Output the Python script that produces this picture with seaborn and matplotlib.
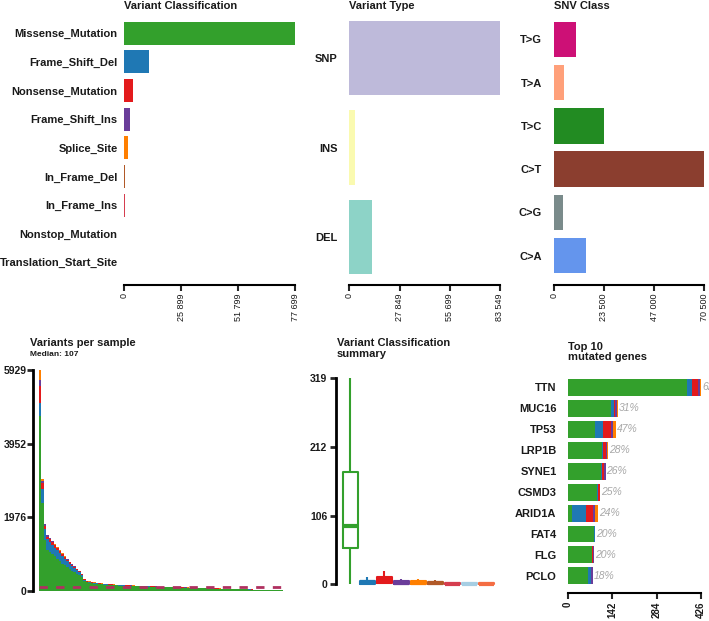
import numpy as np
import pandas as pd
import matplotlib
matplotlib.use("Agg")
import matplotlib.pyplot as plt
import seaborn as sns

# ---------------- data ----------------
vc_classes = ["Missense_Mutation", "Frame_Shift_Del", "Nonsense_Mutation", "Frame_Shift_Ins",
              "Splice_Site", "In_Frame_Del", "In_Frame_Ins", "Nonstop_Mutation",
              "Translation_Start_Site"]
vc_counts = [77699, 11480, 4220, 2860, 1680, 600, 250, 100, 150]
vc_colors = ["#33A02C", "#1F78B4", "#E31A1C", "#6A3D9A", "#FF7F00", "#B15928",
             "#D53E4F", "#A6CEE3", "#F46D43"]

vt_types = ["SNP", "INS", "DEL"]
vt_counts = [83549, 3160, 12420]
vt_colors = ["#BEBADA", "#FAFAB0", "#8DD3C7"]

snv_classes = ["T>G", "T>A", "T>C", "C>T", "C>G", "C>A"]
snv_counts = [10300, 4960, 23690, 70500, 4350, 15260]
snv_colors = ["#CD1076", "#FFA07A", "#228B22", "#8B3E2F", "#7A8B8B", "#6495ED"]

# variants per sample (sorted), totals and the minor classes stacked on top of missense
sample_total = [5929, 3000, 1800, 1500, 1420, 1340, 1250, 1170, 1090, 1000,
                920, 850, 780, 720, 660, 590, 540, 450, 320, 265,
                250, 230, 222, 215, 200, 195, 188, 182, 178, 175,
                168, 163, 160, 156, 152, 148, 145, 142, 140, 138,
                135, 133, 130, 127, 124, 121, 118, 115, 112, 109,
                106, 104, 102, 100, 98, 96, 94, 92, 90, 88,
                86, 84, 82, 80, 78, 76, 74, 72, 70, 68,
                66, 64, 62, 60, 58, 56, 54, 52, 50, 48,
                46, 44, 42, 40, 38, 36, 34, 32, 30, 28,
                26, 24, 22, 20, 18, 16, 14, 11, 8, 5]
sample_fsd = [350, 380, 300, 280, 270, 250, 230, 225, 210, 195,
              170, 155, 140, 125, 110, 95, 80, 55, 25, 20,
              18, 16, 15, 14, 13, 12, 12, 11, 11, 11,
              10, 10, 9, 9, 9, 9, 8, 8, 8, 8,
              7, 7, 7, 7, 6, 6, 6, 6, 6, 6,
              5, 5, 5, 5, 5, 5, 5, 5, 4, 4,
              4, 4, 4, 4, 4, 4, 4, 3, 3, 3,
              3, 3, 3, 3, 3, 3, 3, 3, 2, 2,
              2, 2, 2, 2, 2, 2, 2, 2, 1, 1,
              1, 1, 1, 1, 1, 1, 1, 0, 0, 0]
sample_nonsense = [450, 160, 90, 75, 70, 65, 60, 55, 52, 50,
                   45, 42, 40, 37, 34, 31, 28, 24, 16, 12,
                   12, 11, 11, 10, 10, 10, 9, 9, 8, 8,
                   8, 8, 8, 8, 7, 7, 7, 7, 6, 6,
                   6, 6, 6, 6, 6, 5, 5, 5, 5, 5,
                   5, 5, 5, 5, 4, 4, 4, 4, 4, 4,
                   4, 4, 4, 4, 3, 3, 3, 3, 3, 3,
                   3, 3, 3, 3, 3, 2, 2, 2, 2, 2,
                   2, 2, 2, 2, 2, 1, 1, 1, 1, 1,
                   1, 1, 1, 1, 1, 1, 0, 0, 0, 0]
sample_fsins = [150, 70, 40, 30, 25, 22, 18, 18, 16, 15,
                15, 13, 12, 11, 10, 9, 8, 7, 5, 4,
                4, 3, 3, 3, 3, 3, 3, 3, 3, 3,
                3, 2, 2, 2, 2, 2, 2, 2, 2, 2,
                2, 2, 2, 2, 2, 2, 2, 2, 2, 2,
                2, 2, 2, 2, 2, 2, 2, 2, 2, 2,
                1, 1, 1, 1, 1, 1, 1, 1, 1, 1,
                1, 1, 1, 1, 1, 1, 1, 1, 1, 1,
                1, 1, 1, 1, 1, 1, 1, 1, 1, 1,
                0, 0, 0, 0, 0, 0, 0, 0, 0, 0]
sample_splice = [280, 40, 20, 15, 15, 13, 12, 12, 12, 10,
                 10, 10, 8, 7, 6, 5, 4, 4, 4, 4,
                 3, 3, 3, 3, 2, 2, 2, 2, 2, 2,
                 2, 2, 2, 2, 2, 2, 2, 2, 2, 2,
                 2, 2, 2, 2, 2, 2, 2, 2, 2, 2,
                 1, 1, 1, 1, 1, 1, 1, 1, 1, 1,
                 1, 1, 1, 1, 1, 1, 1, 1, 1, 1,
                 1, 1, 1, 1, 1, 1, 1, 1, 1, 1,
                 0, 0, 0, 0, 0, 0, 0, 0, 0, 0,
                 0, 0, 0, 0, 0, 0, 0, 0, 0, 0]
median_variants = 107

# five-number summaries per class (min, q1, median, q3, max)
box_stats = {
    "Missense_Mutation": [0, 55.7, 90.3, 174.5, 319],
    "Frame_Shift_Del": [0, 1, 3, 5, 12],
    "Nonsense_Mutation": [0, 1.5, 6, 11.8, 21],
    "Frame_Shift_Ins": [0, 0.5, 2, 5, 8],
    "Splice_Site": [0, 1, 2, 5, 8],
    "In_Frame_Del": [0, 0.5, 1.5, 3.5, 6],
    "In_Frame_Ins": [0, 0, 1, 2.5, 2.5],
    "Nonstop_Mutation": [0, 0, 1, 2, 2],
    "Translation_Start_Site": [0, 0, 1, 2.5, 2.5],
}

genes = ["TTN", "MUC16", "TP53", "LRP1B", "SYNE1", "CSMD3", "ARID1A", "FAT4", "FLG", "PCLO"]
gene_missense = [380, 138, 88, 109, 106, 95, 13, 84, 79, 65]
gene_fsd = [17, 9, 26, 3, 3, 1, 45, 2, 0, 8]
gene_nonsense = [18, 4, 23, 10, 7, 7, 22, 0, 2, 3]
gene_fsins = [8, 5, 7, 4, 5, 0, 8, 2, 2, 5]
gene_splice = [3, 4, 11, 2, 0, 0, 8, 0, 0, 0]
gene_pct = ["62%", "31%", "47%", "28%", "26%", "25%", "24%", "20%", "20%", "18%"]

# ---------------- figure ----------------
sns.set_style("white")
plt.rcParams["font.family"] = ["Liberation Sans", "DejaVu Sans"]
W, H = 709, 621
fig = plt.figure(figsize=(W / 100, H / 100), dpi=100)
narrow = ["Liberation Sans Narrow", "Liberation Sans", "DejaVu Sans"]
txt = "#1a1a1a"


def rect(x0, y0, x1, y1):
    return [x0 / W, 1 - y1 / H, (x1 - x0) / W, (y1 - y0) / H]


def fmt(v):
    return f"{int(v):,}".replace(",", " ")


def title(x, y, s, size=8, ls=1.0):
    fig.text(x / W, 1 - y / H, s, fontsize=size, fontweight="bold", color=txt,
             ha="left", va="center", linespacing=ls)


def top_panel(r, labels, values, colors, name, ylim, width, pad):
    ax = fig.add_axes(r)
    sns.barplot(x=values, y=labels, hue=labels, order=labels, hue_order=labels,
                palette=dict(zip(labels, colors)), legend=False, orient="h",
                width=width, linewidth=0, saturation=1, errorbar=None, ax=ax)
    vmax = max(values)
    ticks = np.floor(np.linspace(0, vmax, 4))
    ax.set_xlim(0, vmax)
    ax.set_ylim(*ylim)
    ax.set_xticks(ticks)
    ax.set_xticklabels([fmt(t) for t in ticks], rotation=90, fontsize=6.5,
                       family=narrow, color=txt)
    for s in ["top", "right", "left"]:
        ax.spines[s].set_visible(False)
    ax.spines["bottom"].set_bounds(0, vmax)
    ax.spines["bottom"].set_linewidth(1.5)
    ax.spines["bottom"].set_color("black")
    ax.tick_params(axis="x", length=4, width=1.5, pad=2, bottom=True)
    ax.tick_params(axis="y", length=0, pad=pad, labelsize=8)
    for t in ax.get_yticklabels():
        t.set_fontweight("bold")
        t.set_color(txt)
    ax.set_xlabel("")
    ax.set_ylabel("")
    title(r[0] * W, 6, name)
    return ax


top_panel(rect(124, 19, 295.3, 285), vc_classes, vc_counts, vc_colors,
          "Variant Classification", (8.79, -0.5), 0.8, 4.5)
top_panel(rect(349.3, 19, 500, 285), vt_types, vt_counts, vt_colors,
          "Variant Type", (2.54, -0.44), 0.83, 8.3)
top_panel(rect(553.7, 19, 704.3, 285), snv_classes, snv_counts, snv_colors,
          "SNV Class", (5.68, -0.47), 0.82, 8.3)

# ---- variants per sample ----
ax4 = fig.add_axes(rect(33.3, 370, 287, 590.7))
minor = np.array([sample_fsd, sample_nonsense, sample_fsins, sample_splice])
missense = np.array(sample_total) - minor.sum(axis=0)
layers = np.vstack([missense, minor])
cum = np.cumsum(layers, axis=0)
stack_colors = ["#33A02C", "#1F78B4", "#E31A1C", "#6A3D9A", "#FF7F00"]
samples = np.arange(len(sample_total))
for k in reversed(range(len(layers))):
    sns.barplot(x=samples, y=cum[k], color=stack_colors[k], native_scale=True,
                width=1, linewidth=0, saturation=1, errorbar=None, ax=ax4)
ax4.hlines(median_variants, -0.5, len(samples) - 0.5, colors="#B03060",
           linestyles=(0, (3, 3)), linewidth=2)
vmax = max(sample_total)
ax4.set_xlim(-2.82, 100.3)
ax4.set_ylim(0, vmax)
yt = np.floor(np.linspace(0, vmax, 4))
ax4.set_yticks(yt)
ax4.set_yticklabels([str(int(t)) for t in yt], fontsize=7.5, fontweight="bold", color=txt)
ax4.set_xticks([])
for s in ["top", "right", "bottom"]:
    ax4.spines[s].set_visible(False)
ax4.spines["left"].set_bounds(0, vmax)
ax4.spines["left"].set_linewidth(2)
ax4.spines["left"].set_color("black")
ax4.tick_params(axis="y", length=4, width=2, pad=1, left=True)
ax4.set_xlabel("")
ax4.set_ylabel("")
title(30, 342.7, "Variants per sample")
fig.text(30 / W, 1 - 355 / H, f"Median: {median_variants}", fontsize=6,
         fontweight="bold", color=txt, ha="left", va="center")

# ---- variant classification summary ----
ax5 = fig.add_axes(rect(335.7, 378.3, 495, 584.3))
box_df = pd.DataFrame([(c, v) for c, vals in box_stats.items() for v in vals],
                      columns=["cls", "val"])
sns.boxplot(data=box_df, x="cls", y="val", hue="cls", order=vc_classes,
            hue_order=vc_classes, palette=dict(zip(vc_classes, vc_colors)),
            legend=False, fill=False, whis=(0, 100), width=0.85, showcaps=False,
            showfliers=False, linewidth=1.5, medianprops=dict(linewidth=3),
            saturation=1, ax=ax5)
for art in ax5.lines + ax5.patches:
    art.set_clip_on(False)
bmax = box_stats["Missense_Mutation"][-1]
ax5.set_xlim(-0.86, 8.51)
ax5.set_ylim(0, bmax)
bt = np.floor(np.linspace(0, bmax, 4))
ax5.set_yticks(bt)
ax5.set_yticklabels([str(int(t)) for t in bt], fontsize=7.5, fontweight="bold", color=txt)
ax5.set_xticks([])
for s in ["top", "right", "bottom"]:
    ax5.spines[s].set_visible(False)
ax5.spines["left"].set_bounds(0, bmax)
ax5.spines["left"].set_linewidth(2)
ax5.spines["left"].set_color("black")
ax5.tick_params(axis="y", length=4, width=2, pad=2, left=True)
ax5.set_xlabel("")
ax5.set_ylabel("")
title(337, 348.5, "Variant Classification\nsummary", ls=1.05)

# ---- top 10 genes ----
ax6 = fig.add_axes(rect(567.7, 372, 701, 593.3))
glayers = np.array([gene_missense, gene_fsd, gene_nonsense, gene_fsins, gene_splice])
gcum = np.cumsum(glayers, axis=0)
for k in reversed(range(len(glayers))):
    sns.barplot(x=gcum[k], y=genes, order=genes, orient="h", color=stack_colors[k],
                width=0.81, linewidth=0, saturation=1, errorbar=None, ax=ax6)
gmax = gcum[-1].max()
for i, (tot, p) in enumerate(zip(gcum[-1], gene_pct)):
    ax6.text(tot + 3, i, p, ha="left", va="center", fontsize=7.5, style="italic",
             color="#a8a8a8", clip_on=False)
ax6.set_xlim(0, gmax)
ax6.set_ylim(9.83, -0.73)
gt = np.floor(np.linspace(0, gmax, 4))
ax6.set_xticks(gt)
ax6.set_xticklabels([str(int(t)) for t in gt], rotation=90, fontsize=7,
                    fontweight="bold", color=txt)
for s in ["top", "right", "left"]:
    ax6.spines[s].set_visible(False)
ax6.spines["bottom"].set_bounds(0, gmax)
ax6.spines["bottom"].set_linewidth(1.5)
ax6.spines["bottom"].set_color("black")
ax6.tick_params(axis="x", length=4, width=1.5, pad=2, bottom=True)
ax6.tick_params(axis="y", length=0, pad=8, labelsize=8)
for t in ax6.get_yticklabels():
    t.set_fontweight("bold")
    t.set_color(txt)
ax6.set_xlabel("")
ax6.set_ylabel("")
title(567.7, 352, "Top 10\nmutated genes", ls=1.1)

fig.savefig("out.png", dpi=100)
